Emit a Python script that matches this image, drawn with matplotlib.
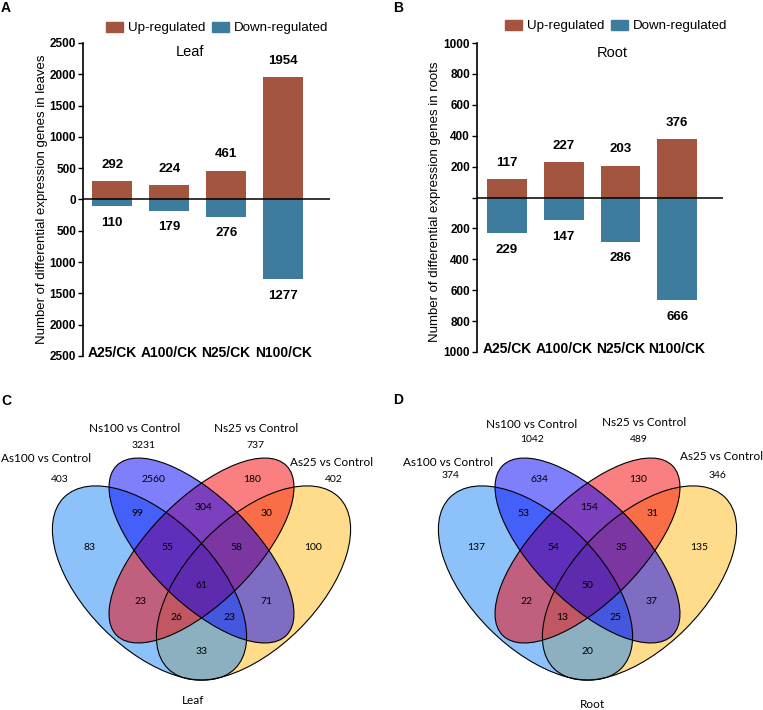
"""
DEG bar charts (leaf / root) and four-way Venn diagrams
"""
import matplotlib
matplotlib.use("Agg")
import matplotlib.pyplot as plt
from matplotlib.patches import Ellipse, Patch

plt.rcParams["font.family"] = ["Liberation Sans", "DejaVu Sans"]

W, H = 763, 710

# ---- data -------------------------------------------------------------
groups = ["A25/CK", "A100/CK", "N25/CK", "N100/CK"]
leaf_up = [292, 224, 461, 1954]
leaf_down = [110, 179, 276, 1277]
root_up = [117, 227, 203, 376]
root_down = [229, 147, 286, 666]

set_names = ["As100 vs Control", "Ns100 vs Control", "Ns25 vs Control", "As25 vs Control"]
leaf_set_totals = [403, 3231, 737, 402]
root_set_totals = [374, 1042, 489, 346]

# region keys: membership in (As100, Ns100, Ns25, As25)
region_keys = ["1000", "0100", "0010", "0001", "1100", "0110", "0011",
               "1110", "0111", "1010", "0101", "1011", "1101", "1001", "1111"]
leaf_regions = [83, 2560, 180, 100, 99, 304, 30, 55, 58, 23, 71, 26, 23, 33, 61]
root_regions = [137, 634, 130, 135, 53, 154, 31, 54, 35, 22, 37, 13, 25, 20, 50]

UP_COLOR = "#A45540"
DOWN_COLOR = "#3D7C9C"


def fx(x):
    return x / W


def fy(y):
    return 1 - y / H


def draw_bars(ax, up, down, lim, step, show_zero):
    x = range(len(groups))
    ax.bar(x, up, width=0.7, color=UP_COLOR, zorder=2)
    ax.bar(x, [-d for d in down], width=0.7, color=DOWN_COLOR, zorder=2)
    ax.axhline(0, color="black", lw=1.1, zorder=3)
    for i, (u, d) in enumerate(zip(up, down)):
        ax.annotate(str(u), (i, u), xytext=(0, 12), textcoords="offset points",
                    ha="center", va="center", fontsize=9.5, fontweight="bold")
        ax.annotate(str(d), (i, -d), xytext=(0, -12), textcoords="offset points",
                    ha="center", va="center", fontsize=9.5, fontweight="bold")
        ax.text(i, -0.98 * lim, groups[i], ha="center", va="center",
                fontsize=10, fontweight="bold")
    ticks = list(range(-lim, lim + 1, step))
    labels = [str(abs(t)) if (t != 0 or show_zero) else "" for t in ticks]
    ax.set_yticks(ticks)
    ax.set_yticklabels(labels, fontsize=8.5, fontweight="bold")
    ax.set_ylim(-lim, lim)
    ax.set_xticks([])
    for s in ["top", "right", "bottom"]:
        ax.spines[s].set_visible(False)
    ax.spines["left"].set_linewidth(1.2)
    ax.tick_params(axis="y", direction="out", length=3.5, width=1, pad=1.5)


fig = plt.figure(figsize=(W / 100, H / 100), dpi=100)

# ---- panel A ------------------------------------------------------------
axA = fig.add_axes([fx(83), fy(356), (330 - 83) / W, (356 - 43) / H])
draw_bars(axA, leaf_up, leaf_down, 2500, 500, True)
axA.set_xlim(-0.51, 3.82)

# ---- panel B ------------------------------------------------------------
axB = fig.add_axes([fx(477), fy(352), (723 - 477) / W, (352 - 43) / H])
draw_bars(axB, root_up, root_down, 1000, 200, False)
axB.set_xlim(-0.53, 3.81)

fig.text(fx(190), fy(52), "Leaf", ha="center", va="center", fontsize=10.5)
fig.text(fx(612), fy(53), "Root", ha="center", va="center", fontsize=10.5)
fig.text(fx(42), fy(199), "Number of differential expression genes in leaves",
         rotation=90, ha="center", va="center", fontsize=9.5)
fig.text(fx(435), fy(202), "Number of differential expression genes in roots",
         rotation=90, ha="center", va="center", fontsize=9.5)

handles = [Patch(color=UP_COLOR), Patch(color=DOWN_COLOR)]
for cx, cy in [(217, 28), (616, 26)]:
    fig.legend(handles, ["Up-regulated", "Down-regulated"], loc="center",
               bbox_to_anchor=(fx(cx), fy(cy)), ncol=2, frameon=False,
               fontsize=9.6, handlelength=1.3, handleheight=0.75,
               handletextpad=0.35, columnspacing=0.5, borderpad=0,
               borderaxespad=0)

for letter, (px, py) in zip("ABCD", [(6, 8), (398, 8), (6, 401), (398, 400)]):
    fig.text(fx(px), fy(py), letter, ha="center", va="center",
             fontsize=10, fontweight="bold")

# ---- Venn diagrams (C, D) ----------------------------------------------
axV = fig.add_axes([0, 0, 1, 300 / H])
axV.set_xlim(0, W)
axV.set_ylim(H, H - 300)
axV.axis("off")

# ellipse layout relative to the panel anchor: (dx, dy, width, height, angle)
ellipses = {
    "As25": (52, -1, 242, 130, -45, (1.0, 0.725, 0.1)),
    "As100": (-52, -1, 242, 130, 45, (0.1, 0.53, 0.96)),
    "Ns25": (0, -33.5, 240, 104, -45, (0.96, 0.0, 0.02)),
    "Ns100": (0, -33.5, 240, 104, 45, (0.0, 0.0, 0.98)),
}

region_pos = {
    "1000": (-111.5, -37), "0100": (-48.5, -105), "0010": (50.5, -105),
    "0001": (111.5, -37), "1100": (-64, -70), "0110": (1.5, -77),
    "0011": (65, -70), "1110": (-34.5, -37), "0111": (34.5, -37),
    "1010": (-61.5, 18), "0101": (64.5, 18), "1011": (-25.5, 33),
    "1101": (27.5, 33), "1001": (0, 67), "1111": (0, 2),
}

# set-label positions: (name dx, dy), (total dx, dy)
leaf_label_pos = [((-155.5, -125), (-141.5, -105)), ((-66.5, -155), (-57.5, -138)),
                  ((54.5, -155), (53.5, -138)), ((130.5, -121), (132.5, -105))]
root_label_pos = [((-139.5, -122), (-137.5, -108)), ((-55.5, -160), (-55.5, -144)),
                  ((56.5, -161), (51.5, -144)), ((134.5, -128), (129.5, -108))]

VFONT = ["Lato", "DejaVu Sans"]


def draw_venn(ax, ox, oy, regions, totals, label_pos, title, title_pos):
    for name, (dx, dy, w, h, ang, col) in ellipses.items():
        ax.add_patch(Ellipse((ox + dx, oy + dy), w, h, angle=ang,
                             facecolor=col, alpha=0.5, edgecolor="none"))
    for name, (dx, dy, w, h, ang, col) in ellipses.items():
        ax.add_patch(Ellipse((ox + dx, oy + dy), w, h, angle=ang,
                             facecolor="none", edgecolor="black", lw=0.8))
    for key, val in zip(region_keys, regions):
        dx, dy = region_pos[key]
        ax.text(ox + dx, oy + dy, str(val), ha="center", va="center",
                fontsize=7.5, family=VFONT)
    for name, tot, (npos, tpos) in zip(set_names, totals, label_pos):
        ax.text(ox + npos[0], oy + npos[1], name, ha="center", va="center",
                fontsize=8.5, family=VFONT)
        ax.text(ox + tpos[0], oy + tpos[1], str(tot), ha="center", va="center",
                fontsize=7.5, family=VFONT)
    ax.text(ox + title_pos[0], oy + title_pos[1], title, ha="center",
            va="center", fontsize=8.5, family=VFONT)


draw_venn(axV, 201.5, 584, leaf_regions, leaf_set_totals, leaf_label_pos,
          "Leaf", (-8.5, 117))
draw_venn(axV, 587.5, 584, root_regions, root_set_totals, root_label_pos,
          "Root", (4.5, 120))

fig.savefig("out.png", dpi=100)
